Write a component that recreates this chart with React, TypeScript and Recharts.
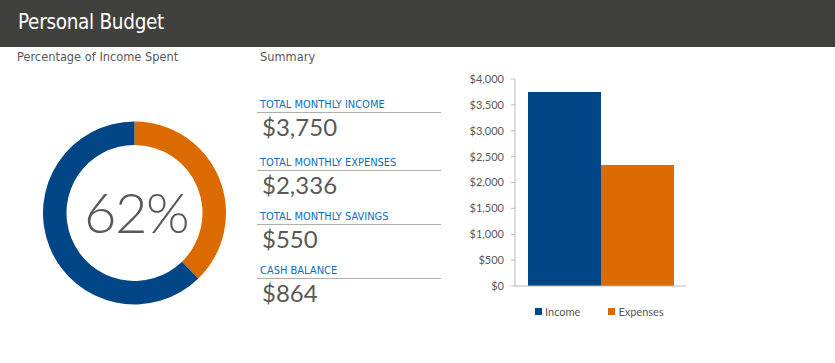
import React from "react";
import { PieChart, Pie, Cell, Label, BarChart, Bar, XAxis, YAxis } from "recharts";

// Summary figures
const summaryLabels = ["TOTAL MONTHLY INCOME", "TOTAL MONTHLY EXPENSES", "TOTAL MONTHLY SAVINGS", "CASH BALANCE"];
const summaryValues = [3750, 2336, 550, 864];

// Donut: share of income left vs spent
const donutNames = ["Remaining", "Spent"];
const donutValues = [3750 - 2336, 2336];
const percentLabel = "62%";

// Bar chart
const barSeries = ["Income", "Expenses"];
const barValues = [3750, 2336];
const yTicks = [0, 500, 1000, 1500, 2000, 2500, 3000, 3500, 4000];

const BLUE = "#004585";
const ORANGE = "#db6a00";
const GRAY = "#595959";
const AXIS = "#bcbcae";
const HEAD_FONT = "'DejaVu Sans Condensed', 'DejaVu Sans', sans-serif";
const NUM_FONT = "Lato, 'Open Sans', sans-serif";

const donutData = donutNames.map((name, i) => ({ name, value: donutValues[i] }));
const barData = [{ name: "Budget", Income: barValues[0], Expenses: barValues[1] }];
const barColors = [BLUE, ORANGE];

const money = (v: number) => "$" + v.toLocaleString("en-US");

const App = () => {
    return (
        <div style={{ position: "absolute", top: 0, left: 0, width: 835, height: 363, background: "#fff", fontFamily: HEAD_FONT }}>
            {/* header */}
            <div style={{ position: "absolute", top: 0, left: 0, width: 835, height: 47, background: "#40403e" }}>
                <div style={{ position: "absolute", left: 18, top: 10, color: "#fff", fontSize: 20.5, letterSpacing: -0.3 }}>Personal Budget</div>
            </div>
            <div style={{ position: "absolute", left: 17, top: 49, color: GRAY, fontSize: 12.7 }}>Percentage of Income Spent</div>
            <div style={{ position: "absolute", left: 260, top: 49, color: GRAY, fontSize: 12.7 }}>Summary</div>

            {/* donut */}
            <div style={{ position: "absolute", left: 0, top: 100 }}>
                <PieChart width={268} height={226} margin={{ top: 0, right: 0, bottom: 0, left: 0 }}>
                    <Pie
                        data={donutData}
                        dataKey="value"
                        cx={134.5}
                        cy={113}
                        innerRadius={68}
                        outerRadius={91.5}
                        startAngle={90}
                        endAngle={-270}
                        stroke="none"
                        isAnimationActive={false}
                    >
                        <Cell fill={ORANGE} />
                        <Cell fill={BLUE} />
                        <Label
                            position="center"
                            content={() => (
                                <text x={136} y={113} dy={20} textAnchor="middle" fill={GRAY} fontSize={56} letterSpacing={-1.5} fontFamily={NUM_FONT} fontWeight={300}>
                                    {percentLabel}
                                </text>
                            )}
                        />
                    </Pie>
                </PieChart>
            </div>

            {/* summary list */}
            {summaryLabels.map((label, i) => {
                const tops = [97, 155, 209, 263];
                return (
                    <div key={label} style={{ position: "absolute", left: 257, top: tops[i], width: 184 }}>
                        <div style={{ color: "#0a6fc2", fontSize: 11, paddingLeft: 3, paddingTop: 1, lineHeight: "14px", borderBottom: "1px solid #b0b0a8" }}>
                            {label}
                        </div>
                        <div style={{ color: GRAY, fontSize: 24, fontFamily: NUM_FONT, fontWeight: 400, paddingLeft: 5, lineHeight: "28px", marginTop: 0 }}>
                            {money(summaryValues[i])}
                        </div>
                    </div>
                );
            })}

            {/* bar chart */}
            <div style={{ position: "absolute", left: 440, top: 60 }}>
                <BarChart
                    width={260}
                    height={270}
                    data={barData}
                    margin={{ top: 19, right: 14, left: 0, bottom: 43 }}
                    barGap={0}
                    barCategoryGap={13}
                >
                    <XAxis dataKey="name" tick={false} tickLine={false} height={1} axisLine={{ stroke: AXIS, strokeWidth: 1 }} />
                    <YAxis
                        width={75}
                        domain={[0, 4000]}
                        ticks={yTicks}
                        tickFormatter={money}
                        tickSize={4}
                        tickMargin={7}
                        axisLine={{ stroke: AXIS }}
                        tickLine={{ stroke: AXIS }}
                        tick={{ fill: GRAY, fontSize: 11, fontFamily: NUM_FONT }}
                    />
                    {barSeries.map((s, i) => (
                        <Bar key={s} dataKey={s} fill={barColors[i]} isAnimationActive={false} />
                    ))}
                </BarChart>
            </div>

            {/* legend */}
            <div style={{ position: "absolute", left: 535, top: 305, display: "flex", fontFamily: NUM_FONT, fontSize: 11, color: GRAY }}>
                {barSeries.map((s, i) => (
                    <div key={s} style={{ display: "flex", alignItems: "center", marginRight: i === 0 ? 28 : 0 }}>
                        <div style={{ width: 7, height: 7, background: barColors[i], marginRight: 3 }} />
                        <span>{s}</span>
                    </div>
                ))}
            </div>
        </div>
    );
};

export default App;
